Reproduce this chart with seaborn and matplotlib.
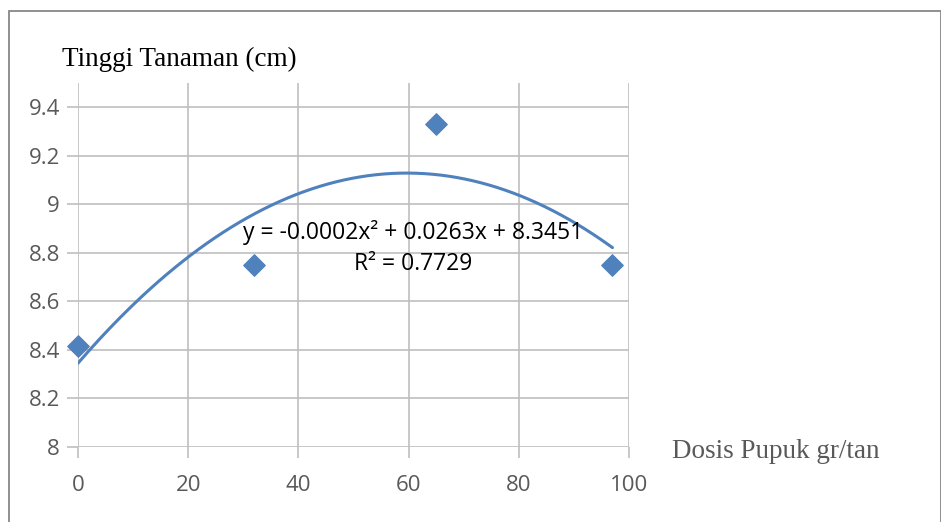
import numpy as np
import pandas as pd
import matplotlib.pyplot as plt
import matplotlib.patches as mpatches
import seaborn as sns

# Data
dosis = [0, 32, 65, 97]
tinggi = [8.417, 8.75, 9.333, 8.75]
x_ticks = [0, 20, 40, 60, 80, 100]
y_ticks = [8, 8.2, 8.4, 8.6, 8.8, 9, 9.2, 9.4]
y_tick_labels = ['8', '8.2', '8.4', '8.6', '8.8', '9', '9.2', '9.4']
equation = 'y = -0.0002x² + 0.0263x + 8.3451'
r_squared = 'R² = 0.7729'

sns.set_style('white')
plt.rcParams['font.family'] = ['Open Sans', 'DejaVu Sans']

blue = '#4F81BD'
grid_gray = '#BFBFBF'

df = pd.DataFrame({'Dosis': dosis, 'Tinggi': tinggi})

# polynomial trendline (order 2) fitted to the points
coef = np.polyfit(df['Dosis'], df['Tinggi'], 2)
xs = np.linspace(min(dosis), max(dosis), 200)
trend = pd.DataFrame({'Dosis': xs, 'Tinggi': np.polyval(coef, xs)})

fig = plt.figure(figsize=(9.41, 5.22), dpi=100)
ax = fig.add_axes([78 / 941, 1 - 447 / 522, (629 - 78) / 941, (447 - 83) / 522])

sns.lineplot(data=trend, x='Dosis', y='Tinggi', ax=ax, color=blue, lw=2.2)
sns.scatterplot(data=df, x='Dosis', y='Tinggi', ax=ax, marker='D', s=120,
                color=blue, edgecolor=blue, zorder=5, clip_on=False)

ax.set_xlim(0, 100)
ax.set_ylim(8, 9.5)
ax.set_xticks(x_ticks)
ax.set_yticks(y_ticks)
ax.set_yticklabels(y_tick_labels)
ax.grid(True, color=grid_gray, lw=1.2)
ax.set_axisbelow(True)
for s in ax.spines.values():
    s.set_visible(False)
ax.tick_params(axis='both', length=8, width=1.2, color=grid_gray,
               labelsize=16, labelcolor='#595959', pad=5, direction='out')
ax.tick_params(axis='x', bottom=True, pad=12)
ax.tick_params(axis='y', left=True)
ax.set_xlabel('')
ax.set_ylabel('')

# equation of the trendline
ax.text(60.8, 8.885, equation, ha='center', va='center', fontsize=16.5, color='black')
ax.text(60.8, 8.755, r_squared, ha='center', va='center', fontsize=16.5, color='black')

# axis titles
fig.text(62 / 941, 1 - 59 / 522, 'Tinggi Tanaman (cm)', family='Liberation Serif',
         fontsize=19.5, color='black', va='center', ha='left')
fig.text(672 / 941, 1 - 452 / 522, 'Dosis Pupuk gr/tan', family='Liberation Serif',
         fontsize=19.5, color='#595959', va='center', ha='left')

# chart area border
fig.patches.append(mpatches.Rectangle((9 / 941, -0.1), 1.0 - 9 / 941, 1.1 - 11 / 522,
                                      transform=fig.transFigure, fill=False,
                                      edgecolor='#878787', lw=1.3))

fig.savefig('out.png', dpi=100)
